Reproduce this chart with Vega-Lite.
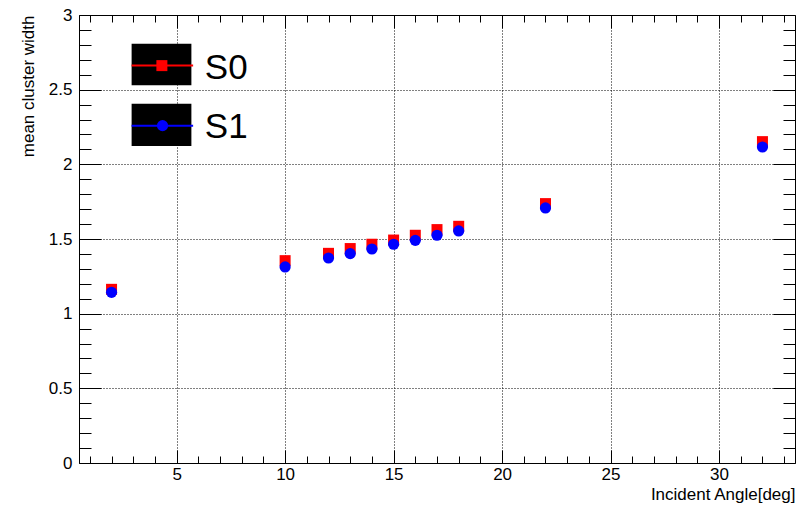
{
  "$schema": "https://vega.github.io/schema/vega-lite/v6.json",
  "width": 716,
  "height": 448,
  "autosize": {"type": "none"},
  "padding": {"left": 79, "top": 15, "right": 10, "bottom": 43},
  "background": "white",
  "config": {
    "view": {"stroke": "black", "strokeWidth": 1},
    "font": "Liberation Sans",
    "axis": {"labelFont": "Liberation Sans", "titleFont": "Liberation Sans", "labelColor": "black", "titleColor": "black", "titleFontWeight": "normal", "tickColor": "black", "domain": false}
  },
  "data": {
    "values": [
      {"angle": 2, "width": 1.163, "series": "S0"},
      {"angle": 10, "width": 1.355, "series": "S0"},
      {"angle": 12, "width": 1.404, "series": "S0"},
      {"angle": 13, "width": 1.436, "series": "S0"},
      {"angle": 14, "width": 1.465, "series": "S0"},
      {"angle": 15, "width": 1.493, "series": "S0"},
      {"angle": 16, "width": 1.525, "series": "S0"},
      {"angle": 17, "width": 1.563, "series": "S0"},
      {"angle": 18, "width": 1.585, "series": "S0"},
      {"angle": 22, "width": 1.737, "series": "S0"},
      {"angle": 32, "width": 2.152, "series": "S0"},
      {"angle": 2, "width": 1.143, "series": "S1"},
      {"angle": 10, "width": 1.313, "series": "S1"},
      {"angle": 12, "width": 1.373, "series": "S1"},
      {"angle": 13, "width": 1.402, "series": "S1"},
      {"angle": 14, "width": 1.433, "series": "S1"},
      {"angle": 15, "width": 1.465, "series": "S1"},
      {"angle": 16, "width": 1.491, "series": "S1"},
      {"angle": 17, "width": 1.525, "series": "S1"},
      {"angle": 18, "width": 1.554, "series": "S1"},
      {"angle": 22, "width": 1.708, "series": "S1"},
      {"angle": 32, "width": 2.116, "series": "S1"}
    ]
  },
  "layer": [
    {
      "transform": [{"filter": "datum.series === 'S0'"}],
      "mark": {"type": "square", "color": "#ff0000", "opacity": 1, "size": 121, "filled": true},
      "encoding": {
        "x": {
          "field": "angle", "type": "quantitative",
          "scale": {"domain": [0.5, 33.5], "nice": false, "zero": false},
          "axis": {
            "orient": "bottom",
            "values": [1,2,3,4,5,6,7,8,9,10,11,12,13,14,15,16,17,18,19,20,21,22,23,24,25,26,27,28,29,30,31,32,33],
            "labelExpr": "datum.value % 5 === 0 ? datum.label : ''",
            "labelFontSize": 17,
            "labelPadding": 16,
            "labelOverlap": false,
            "tickSize": {"condition": {"test": "datum.value % 5 === 0", "value": -13}, "value": -7},
            "grid": true,
            "gridColor": "black",
            "gridDash": [1, 2],
            "gridWidth": 1,
            "gridOpacity": {"condition": {"test": "datum.value % 5 === 0", "value": 1}, "value": 0},
            "title": "Incident Angle[deg]",
            "titleFontSize": 17,
            "titleAnchor": "end",
            "titleAlign": "right",
            "titlePadding": -2
          }
        },
        "y": {
          "field": "width", "type": "quantitative",
          "scale": {"domain": [0, 3], "nice": false, "zero": false},
          "axis": {
            "orient": "left",
            "values": [0,0.1,0.2,0.3,0.4,0.5,0.6,0.7,0.8,0.9,1,1.1,1.2,1.3,1.4,1.5,1.6,1.7,1.8,1.9,2,2.1,2.2,2.3,2.4,2.5,2.6,2.7,2.8,2.9,3],
            "format": ".1~f",
            "labelExpr": "abs(round(datum.value*2) - datum.value*2) < 0.001 ? datum.label : ''",
            "labelFontSize": 17,
            "labelPadding": 29,
            "labelOverlap": false,
            "labelBaseline": "middle",
            "tickSize": {"condition": {"test": "abs(round(datum.value*2) - datum.value*2) < 0.001", "value": -22}, "value": -12},
            "grid": true,
            "gridColor": "black",
            "gridDash": [1, 2],
            "gridWidth": 1,
            "gridOpacity": {"condition": {"test": "abs(round(datum.value*2) - datum.value*2) < 0.001", "value": 1}, "value": 0},
            "title": "mean cluster width",
            "titleFontSize": 17,
            "titleAnchor": "end",
            "titlePadding": 11
          }
        }
      }
    },
    {
      "transform": [{"filter": "datum.series === 'S1'"}],
      "mark": {"type": "circle", "color": "#0000ff", "opacity": 1, "size": 125},
      "encoding": {
        "x": {
          "field": "angle", "type": "quantitative",
          "axis": {
            "orient": "top",
            "values": [1,2,3,4,5,6,7,8,9,10,11,12,13,14,15,16,17,18,19,20,21,22,23,24,25,26,27,28,29,30,31,32,33],
            "labels": false,
            "grid": false,
            "title": null,
            "tickSize": {"condition": {"test": "datum.value % 5 === 0", "value": -13}, "value": -7}
          }
        },
        "y": {
          "field": "width", "type": "quantitative",
          "axis": {
            "orient": "right",
            "values": [0,0.1,0.2,0.3,0.4,0.5,0.6,0.7,0.8,0.9,1,1.1,1.2,1.3,1.4,1.5,1.6,1.7,1.8,1.9,2,2.1,2.2,2.3,2.4,2.5,2.6,2.7,2.8,2.9,3],
            "labels": false,
            "grid": false,
            "title": null,
            "tickSize": {"condition": {"test": "abs(round(datum.value*2) - datum.value*2) < 0.001", "value": -22}, "value": -12}
          }
        }
      }
    },
    {
      "data": {"values": [{"label": "S0"}]},
      "layer": [
        {
          "mark": {"type": "rect", "color": "black"},
          "encoding": {
            "x": {"datum": 2.925, "type": "quantitative", "axis": null},
            "x2": {"datum": 5.68},
            "y": {"datum": 2.808, "type": "quantitative", "axis": null},
            "y2": {"datum": 2.529}
          }
        },
        {
          "mark": {"type": "rule", "stroke": "#ff0000", "strokeWidth": 2, "opacity": 1},
          "encoding": {
            "x": {"datum": 2.925, "type": "quantitative", "axis": null},
            "x2": {"datum": 5.76},
            "y": {"datum": 2.661, "type": "quantitative", "axis": null}
          }
        },
        {
          "mark": {"type": "square", "color": "#ff0000", "opacity": 1, "size": 121, "filled": true},
          "encoding": {
            "x": {"datum": 4.32, "type": "quantitative", "axis": null},
            "y": {"datum": 2.661, "type": "quantitative", "axis": null}
          }
        },
        {
          "mark": {"type": "text", "font": "Liberation Sans", "fontSize": 35, "align": "left", "baseline": "alphabetic", "color": "black"},
          "encoding": {
            "x": {"datum": 6.3, "type": "quantitative", "axis": null},
            "y": {"datum": 2.569, "type": "quantitative", "axis": null},
            "text": {"field": "label"}
          }
        }
      ]
    },
    {
      "data": {"values": [{"label": "S1"}]},
      "layer": [
        {
          "mark": {"type": "rect", "color": "black"},
          "encoding": {
            "x": {"datum": 2.925, "type": "quantitative", "axis": null},
            "x2": {"datum": 5.68},
            "y": {"datum": 2.406, "type": "quantitative", "axis": null},
            "y2": {"datum": 2.122}
          }
        },
        {
          "mark": {"type": "rule", "stroke": "#0000ff", "strokeWidth": 2, "opacity": 1},
          "encoding": {
            "x": {"datum": 2.925, "type": "quantitative", "axis": null},
            "x2": {"datum": 5.76},
            "y": {"datum": 2.259, "type": "quantitative", "axis": null}
          }
        },
        {
          "mark": {"type": "circle", "color": "#0000ff", "opacity": 1, "size": 125},
          "encoding": {
            "x": {"datum": 4.35, "type": "quantitative", "axis": null},
            "y": {"datum": 2.259, "type": "quantitative", "axis": null}
          }
        },
        {
          "mark": {"type": "text", "font": "Liberation Sans", "fontSize": 35, "align": "left", "baseline": "alphabetic", "color": "black"},
          "encoding": {
            "x": {"datum": 6.3, "type": "quantitative", "axis": null},
            "y": {"datum": 2.173, "type": "quantitative", "axis": null},
            "text": {"field": "label"}
          }
        }
      ]
    }
  ],
  "resolve": {"axis": {"x": "independent", "y": "independent"}}
}
